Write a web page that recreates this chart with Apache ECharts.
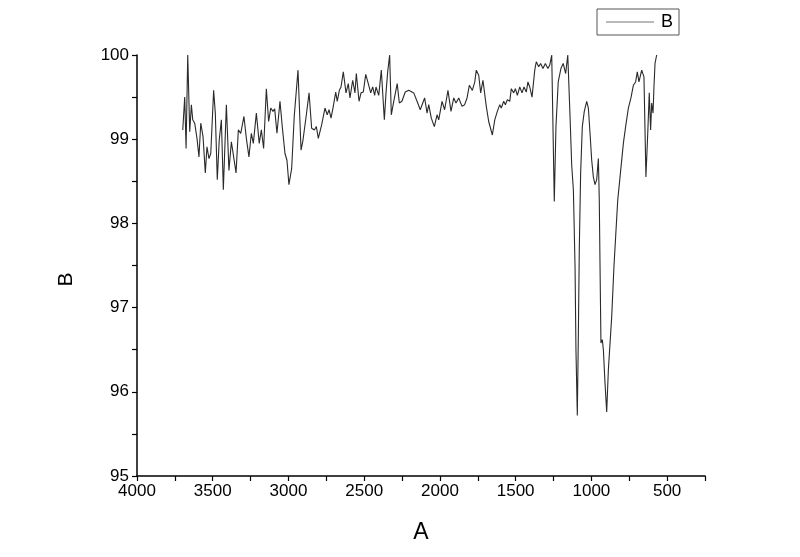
<!DOCTYPE html>
<html>
<head>
<meta charset="utf-8">
<script src="https://cdn.jsdelivr.net/npm/echarts@6/dist/echarts.min.js"></script>
<style>html,body{margin:0;padding:0;background:#fff}#c{width:800px;height:557px}</style>
</head>
<body>
<div id="c"></div>
<script>
var seriesName = 'B';
var xAxisName = 'A';
var yAxisName = 'B';
var xTickLabels = [4000, 3500, 3000, 2500, 2000, 1500, 1000, 500];
var yTickLabels = [95, 96, 97, 98, 99, 100];
var wavenumber = [3698,3685,3676,3665,3652,3641,3632,3619,3604,3591,3579,3564,3549,3538,3525,3513,3494,3483,3470,3457,3443,3430,3410,3393,3377,3364,3346,3331,3315,3294,3278,3261,3245,3232,3212,3193,3179,3164,3146,3131,3117,3102,3091,3076,3056,3041,3023,3010,2997,2979,2962,2950,2937,2917,2904,2882,2864,2847,2829,2816,2803,2781,2759,2744,2732,2719,2704,2688,2678,2664,2653,2638,2620,2605,2594,2576,2561,2552,2534,2521,2506,2490,2473,2457,2444,2431,2422,2404,2387,2367,2356,2345,2332,2321,2305,2295,2282,2268,2251,2229,2206,2196,2173,2151,2130,2118,2101,2085,2074,2057,2037,2019,2008,1986,1969,1947,1927,1909,1894,1876,1854,1837,1821,1806,1786,1770,1760,1744,1731,1716,1694,1678,1665,1654,1638,1621,1605,1595,1579,1568,1555,1539,1529,1513,1502,1489,1473,1458,1445,1430,1419,1407,1392,1374,1364,1348,1335,1320,1304,1287,1275,1262,1245,1234,1219,1201,1186,1170,1156,1141,1130,1119,1108,1102,1093,1086,1080,1071,1060,1047,1031,1020,1009,998,987,976,965,954,948,943,937,928,921,910,899,888,866,851,840,826,811,789,774,756,739,723,708,697,686,668,653,640,628,618,609,602,593,587,580,569];
var transmittance = [99.11,99.50,98.89,100.00,99.09,99.41,99.23,99.19,99.01,98.79,99.19,99.03,98.60,98.91,98.77,98.83,99.58,99.31,98.52,98.99,99.23,98.40,99.41,98.63,98.97,98.95,98.60,99.11,99.07,99.27,99.01,98.79,99.07,98.95,99.31,98.95,99.11,98.89,99.60,99.21,99.37,99.33,99.36,99.07,99.45,99.15,98.83,98.75,98.46,98.65,99.27,99.29,99.82,98.87,98.99,99.29,99.55,99.13,99.11,99.15,99.01,99.17,99.37,99.29,99.35,99.25,99.39,99.56,99.45,99.58,99.62,99.80,99.55,99.66,99.49,99.70,99.55,99.78,99.45,99.55,99.56,99.77,99.66,99.55,99.62,99.52,99.62,99.52,99.82,99.23,99.55,99.80,100.00,99.29,99.45,99.43,99.66,99.43,99.45,99.56,99.58,99.56,99.55,99.45,99.35,99.33,99.49,99.31,99.41,99.25,99.15,99.29,99.23,99.45,99.35,99.58,99.33,99.49,99.43,99.49,99.39,99.41,99.49,99.64,99.58,99.68,99.82,99.76,99.55,99.70,99.39,99.21,99.19,99.05,99.23,99.33,99.41,99.37,99.45,99.41,99.47,99.45,99.60,99.55,99.60,99.52,99.62,99.55,99.62,99.56,99.68,99.62,99.50,99.82,99.92,99.86,99.90,99.84,99.90,99.84,99.88,100.00,98.26,99.15,99.68,99.84,99.90,99.78,100.00,99.27,98.69,98.40,97.49,96.50,95.72,96.69,97.68,98.60,99.15,99.33,99.45,99.37,99.07,98.75,98.55,98.46,98.52,98.77,98.28,97.49,96.58,96.62,96.50,96.10,95.76,96.26,96.89,97.49,97.84,98.28,98.55,98.95,99.15,99.37,99.49,99.64,99.68,99.80,99.68,99.82,99.74,98.55,99.07,99.55,99.11,99.43,99.31,99.62,99.90,100.00];

var pts = wavenumber.map(function (w, i) { return [w, transmittance[i]]; });
var font = '"Liberation Sans", Arial, sans-serif';
var chart = echarts.init(document.getElementById('c'), null, {renderer: 'canvas'});
chart.setOption({
  animation: false,
  backgroundColor: '#ffffff',
  grid: {left: 137, right: 95, top: 55, bottom: 81, containLabel: false},
  legend: {
    show: true, left: 597, top: 9, orient: 'vertical',
    borderColor: '#555', borderWidth: 1, padding: [4, 6, 4, 9],
    itemWidth: 48, itemHeight: 10, itemGap: 0,
    textStyle: {fontFamily: font, fontSize: 18, color: '#000', padding: [0, 0, 0, 2]},
    data: [{name: seriesName, icon: 'path://M0,0 L48,0 L48,1 L0,1 Z', itemStyle: {color: '#777'}}]
  },
  xAxis: {
    type: 'value', inverse: true, min: 250, max: 4000, interval: 250,
    name: xAxisName, nameLocation: 'middle', nameGap: 45,
    nameTextStyle: {fontFamily: font, fontSize: 23, color: '#000'},
    axisLine: {show: true, onZero: false, lineStyle: {color: '#000', width: 1.5}},
    axisTick: {show: true, inside: false, length: 5, lineStyle: {color: '#000', width: 1.2}},
    axisLabel: {
      fontFamily: font, fontSize: 17, color: '#000', margin: 7,
      formatter: function (v) { return xTickLabels.indexOf(v) >= 0 ? String(v) : ''; }
    },
    splitLine: {show: false}
  },
  yAxis: {
    type: 'value', min: yTickLabels[0], max: yTickLabels[yTickLabels.length - 1], interval: 1,
    name: yAxisName, nameLocation: 'middle', nameGap: 60,
    nameTextStyle: {fontFamily: font, fontSize: 21, color: '#000', padding: [0, 28, 0, 0]},
    axisLine: {show: true, onZero: false, lineStyle: {color: '#000', width: 1.5}},
    axisTick: {show: true, inside: false, length: 5, lineStyle: {color: '#000', width: 1.2}},
    minorTick: {show: true, splitNumber: 2, length: 5, lineStyle: {color: '#000', width: 1.2}},
    axisLabel: {fontFamily: font, fontSize: 17, color: '#000', margin: 8},
    splitLine: {show: false}
  },
  series: [{
    name: seriesName, type: 'line', data: pts, symbol: 'none', showSymbol: false,
    lineStyle: {color: '#2a2a2a', width: 1.1}, smooth: false
  }]
});
</script>
</body>
</html>
